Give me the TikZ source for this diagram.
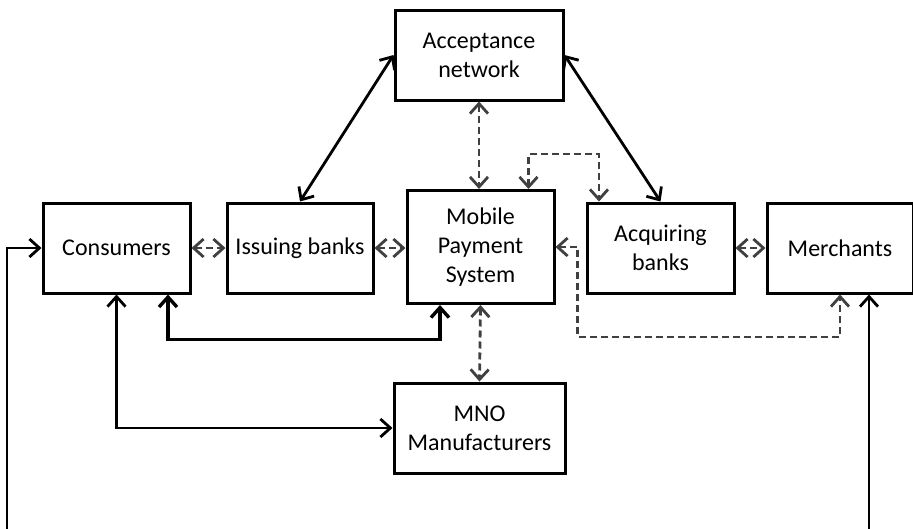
\documentclass[tikz,border=0pt]{standalone}
\usepackage{fontspec}
\setmainfont{Carlito}
\usetikzlibrary{arrows.meta}

\begin{document}
\begin{tikzpicture}[x=1pt, y=-1pt,
    >={Straight Barb[length=10pt,width=18pt]},
    box/.style={draw=black, line width=3pt, fill=white, align=center,
        minimum width=147pt, minimum height=90pt, inner sep=0pt,
        font=\fontsize{24}{29}\selectfont},
    link/.style={draw=black, line width=2.8pt, <->},
    dlink/.style={draw=black!75, line width=2.8pt, dash pattern=on 7pt off 4pt, <->}]
            \useasboundingbox (0,0) rectangle (913,528);

            % boxes
            \node[box, minimum width=168pt] (acc) at (479,55) {Acceptance\\network};
            \node[box] (cons) at (116.5,248) {Consumers};
            \node[box, minimum width=146pt] (iss) at (300,248) {Issuing banks};
            \node[box, minimum height=113pt] (mps) at (480.5,247) {Mobile\\Payment\\System};
            \node[box] (acq) at (660.5,248) {Acquiring\\banks};
            \node[box, minimum width=146pt] (mer) at (840,248) {Merchants};
            \node[box, minimum width=171pt] (mno) at (479.5,428) {MNO\\Manufacturers};

            % dashed links
            \draw[dlink] (cons) -- (iss);
            \draw[dlink] (iss) -- (iss -| mps.west);
            \draw[dlink] (acq) -- (mer);
            \draw[dlink] (acc.south) -- (acc.south |- mps.north);
            \draw[dlink] ([xshift=48pt]mps.north) -- ++(0,-35) -| ([xshift=-61.5pt]acq.north);
            \draw[dlink] (mps.east) -- ++(22,0) -- ++(0,90) -| (mer.south);
            \draw[dlink] (mps.south) -- (mno.north);

            % solid links
            \draw[link] (acc.west) -- (iss.north);
            \draw[link] (acc.east) -- (acq.north);
            \draw[link, line width=3.4pt] ([xshift=51.5pt]cons.south) -- ++(0,45) -| ([xshift=-40.5pt]mps.south);
            \draw[link] (cons.south) |- (mno.west);

            % outer loop
            \coordinate (lo) at (7,540);
            \coordinate (ro) at (869,540);
            \draw[link, ->] (lo) |- (cons.west);
            \draw[link, ->] (ro) -- (ro |- mer.south);
        \end{tikzpicture}
\end{document}
